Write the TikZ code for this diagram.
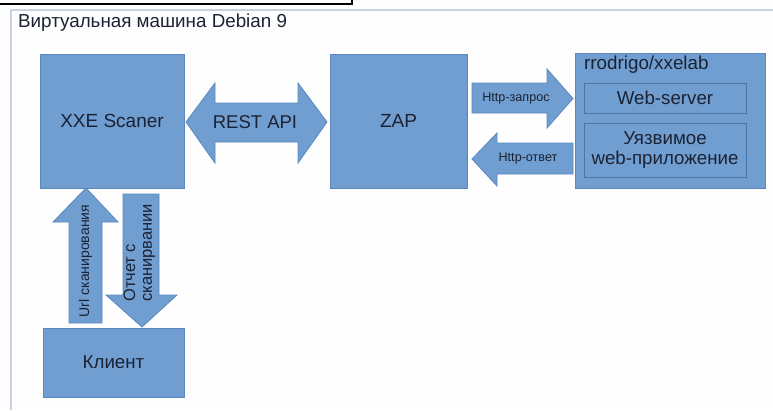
\documentclass[tikz,border=0pt]{standalone}
\usepackage{fontspec}
\setmainfont{Liberation Sans}
\definecolor{boxfill}{HTML}{709ED1}
\definecolor{boxline}{HTML}{5A88BE}
\definecolor{txt}{HTML}{1B2233}
\definecolor{frame}{HTML}{C9D3DF}
\tikzset{
  blk/.style={draw=boxline, fill=boxfill, line width=0.8pt, text=txt, inner sep=0pt},
  inner/.style={draw=boxline!85!black, fill=boxfill, line width=0.8pt, text=txt, inner sep=0pt, align=center},
  barrow/.style={draw=boxline, fill=boxfill, line width=0.8pt, line join=miter},
  lbl/.style={text=txt, inner sep=0pt, align=center},
}
\newcommand{\fs}[1]{\fontsize{#1pt}{\the\dimexpr#1pt*6/5\relax}\selectfont}
\begin{document}
\begin{tikzpicture}[x=1pt,y=-1pt]
\useasboundingbox (0,0) rectangle (773,410);
\fill[white!99!gray] (0,0) rectangle (773,410);
% outer frame
\draw[frame, line width=2pt] (11,410) -- (11,10) -- (773,10);
\draw[black, line width=1.6pt] (0,4) -- (352,4) -- (352,0);
\node[lbl, anchor=west, font=\fs{18.8}] (title) at (18,23) {Виртуальная машина Debian 9};

% boxes
\node[blk, minimum width=144pt, minimum height=134pt, font=\fs{19}] (xxe) at (112,121) {XXE Scaner};
\node[blk, minimum width=137pt, minimum height=134pt, font=\fs{19}] (zap) at (398.5,121) {ZAP};
\node[blk, minimum width=190pt, minimum height=135pt] (lab) at (670,120.5) {};
\node[lbl, anchor=north west, font=\fs{18.8}] (labt) at (584,56) {rrodrigo/xxelab};
\node[inner, minimum width=162pt, minimum height=30pt, font=\fs{18.7}] (web) at (665,98) {Web-server};
\node[inner, minimum width=162pt, minimum height=54pt, font=\fs{18.7}] (app) at (665,150) {Уязвимое\\[-3pt]web-приложение};
\node[blk, minimum width=141pt, minimum height=69pt, font=\fs{18.7}] (cli) at (113.5,362.5) {Клиент};

% REST API double arrow
\draw[barrow] (186,122) -- (215,83) -- (215,103) -- (298,103) -- (298,83) -- (327,122)
  -- (298,163) -- (298,142) -- (215,142) -- (215,163) -- cycle;
\node[lbl, font=\fs{18.5}] (rest) at (255,122) {REST API};

% Http arrows
\draw[barrow] (472,83) -- (547,83) -- (547,69) -- (573,98.5) -- (547,128) -- (547,113) -- (472,113) -- cycle;
\node[lbl, font=\fs{12.6}] (req) at (516,98) {Http-запрос};
\draw[barrow] (573,143) -- (497,143) -- (497,133) -- (472,159) -- (497,186) -- (497,174) -- (573,174) -- cycle;
\node[lbl, font=\fs{12.6}] (resp) at (528,158.5) {Http-ответ};

% vertical arrows
\draw[barrow] (69,323) -- (69,222) -- (53,222) -- (86,188) -- (118,222) -- (102,222) -- (102,323) -- cycle;
\node[lbl, rotate=90, font=\fs{14}] (url) at (85.5,261) {Url сканирования};
\draw[barrow] (123,194) -- (159,194) -- (159,295) -- (177,295) -- (142,327) -- (106,295) -- (123,295) -- cycle;
\node[lbl, rotate=90, anchor=west, align=left, font=\fs{16.5}] (rep) at (139.5,302) {Отчет с\\[-3pt]сканирвании};
\end{tikzpicture}
\end{document}
